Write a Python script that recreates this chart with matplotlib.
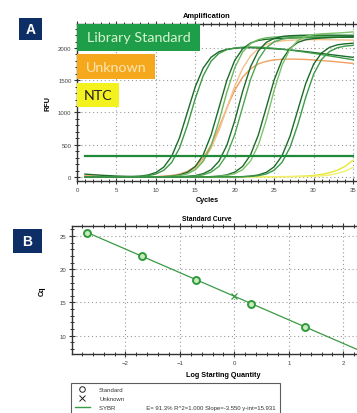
import numpy as np
import matplotlib
matplotlib.use("Agg")
import matplotlib.pyplot as plt
from matplotlib.patches import Rectangle
from matplotlib.lines import Line2D
from matplotlib.ticker import MultipleLocator

plt.rcParams['font.family'] = ['Liberation Sans', 'DejaVu Sans']

# ---------------- Panel A data: amplification (RFU per cycle) ----------------
cycles = list(range(1, 36))

std_1a = [45, 36, 28, 21, 15, 11, 9, 13, 31, 69, 153, 320, 609, 1005, 1401, 1690, 1857, 1942, 1980, 1996,
          2005, 2005, 2000, 1995, 1988, 1980, 1970, 1958, 1945, 1930, 1915, 1900, 1885, 1870, 1855]
std_1b = [5, 4, 3, 3, 3, 4, 4, 9, 20, 46, 104, 224, 450, 802, 1218, 1570, 1796, 1917, 1974, 2000,
          2012, 2015, 2012, 2005, 1995, 1982, 1968, 1952, 1935, 1917, 1898, 1878, 1858, 1838, 1818]
std_2a = [3, 3, 2, 2, 2, 2, 2, 3, 3, 3, 6, 14, 33, 74, 163, 342, 651, 1075, 1499, 1808,
          1987, 2077, 2118, 2135, 2144, 2150, 2155, 2158, 2160, 2162, 2163, 2165, 2166, 2167, 2168]
std_2b = [3, 3, 3, 3, 3, 3, 3, 3, 3, 2, 4, 10, 22, 50, 112, 242, 486, 865, 1315, 1694,
          1938, 2069, 2130, 2158, 2170, 2176, 2180, 2183, 2185, 2187, 2189, 2190, 2191, 2192, 2193]
std_3a = [3, 3, 3, 3, 3, 3, 3, 3, 3, 3, 3, 2, 4, 10, 22, 51, 113, 244, 491, 873,
          1327, 1709, 1956, 2088, 2149, 2178, 2190, 2195, 2198, 2200, 2200, 2199, 2198, 2197, 2196]
std_3b = [3, 3, 3, 3, 3, 3, 3, 3, 3, 3, 3, 3, 3, 6, 15, 33, 75, 165, 345, 658,
          1085, 1512, 1825, 2005, 2096, 2137, 2155, 2164, 2168, 2170, 2172, 2174, 2176, 2178, 2180]
std_4a = [3, 3, 3, 3, 3, 3, 3, 3, 3, 3, 3, 3, 3, 3, 3, 3, 6, 14, 33, 75,
          164, 343, 654, 1080, 1506, 1817, 1996, 2087, 2128, 2145, 2154, 2160, 2165, 2170, 2175]
std_4b = [3, 3, 3, 3, 3, 3, 3, 3, 3, 3, 3, 3, 3, 3, 3, 2, 4, 10, 23, 51,
          114, 248, 497, 885, 1345, 1733, 1982, 2116, 2179, 2208, 2220, 2226, 2232, 2240, 2250]
std_5a = [3, 3, 3, 3, 3, 3, 3, 3, 3, 3, 3, 3, 3, 3, 3, 3, 3, 3, 3, 3,
          6, 14, 32, 72, 158, 331, 630, 1040, 1450, 1749, 1922, 2009, 2049, 2065, 2074]
std_5b = [3, 3, 3, 3, 3, 3, 3, 3, 3, 3, 3, 3, 3, 3, 3, 3, 3, 3, 3, 2,
          4, 9, 21, 47, 105, 228, 457, 814, 1236, 1593, 1822, 1945, 2003, 2030, 2041]
standards = [std_1a, std_1b, std_2a, std_2b, std_3a, std_3b, std_4a, std_4b, std_5a, std_5b]
standard_colors = ['#1d6b2c', '#3c9a48', '#1d6b2c', '#6cb85e', '#1d6b2c', '#4ea652',
                   '#1d6b2c', '#7cc36a', '#1d6b2c', '#3c9a48']

unk_1 = [20, 15, 10, 8, 6, 5, 5, 5, 6, 6, 12, 24, 46, 87, 163, 293, 495, 767, 1073, 1345,
         1547, 1678, 1754, 1794, 1816, 1825, 1828, 1826, 1822, 1815, 1806, 1796, 1785, 1773, 1760]
unk_2 = [8, 6, 5, 4, 4, 4, 4, 4, 5, 5, 10, 20, 38, 73, 138, 253, 445, 722, 1065, 1408,
         1685, 1877, 1992, 2057, 2092, 2110, 2120, 2125, 2128, 2130, 2130, 2128, 2126, 2124, 2122]
unknowns = [unk_1, unk_2]
unknown_colors = ['#f0a060', '#f5c08a']

ntc_1 = [2, 2, 2, 2, 2, 2, 2, 2, 2, 2, 2, 2, 2, 2, 2, 3, 3, 3, 3, 4,
         4, 4, 5, 5, 5, 6, 7, 10, 15, 25, 40, 65, 105, 165, 260]
ntc_2 = [0, 0, 0, 0, 0, 0, 0, 0, 0, 0, 0, 0, 0, 0, 0, 1, 1, 1, 1, 1,
         2, 2, 2, 3, 3, 4, 5, 6, 8, 10, 18, 30, 55, 90, 150]
ntcs = [ntc_1, ntc_2]
ntc_colors = ['#e8e830', '#f2f070']

threshold = 330

# ---------------- Panel B data: standard curve ----------------
std_log_qty = [-2.7, -1.7, -0.7, 0.3, 1.3]
std_cq = [25.45, 22.05, 18.35, 14.8, 11.35]
unk_log_qty = [0.0]
unk_cq = [15.95]
fit_slope = -3.550
fit_intercept = 15.931
fit_x_range = [-2.7, 2.25]
legend_labels = ['Standard', 'Unknown',
                 'SYBR                   E= 91.3% R^2=1.000 Slope=-3.550 y-int=15.931']

W, H = 357, 414
fig = plt.figure(figsize=(W / 100, H / 100), dpi=100)
fig.patch.set_facecolor('white')


def fx(px):
    return px / W


def fy(py):
    return 1 - py / H


tick_col = '#444444'

# ---------------- Panel A ----------------
axA = fig.add_axes([fx(77), fy(182), 1 - fx(77), fy(25) - fy(182)])
for s, c in zip(ntcs, ntc_colors):
    axA.plot(cycles, s, color=c, lw=1.0)
for s, c in zip(unknowns, unknown_colors):
    axA.plot(cycles, s, color=c, lw=1.0)
for s, c in zip(standards, standard_colors):
    axA.plot(cycles, s, color=c, lw=1.0)
axA.plot([cycles[0], cycles[-1]], [threshold, threshold], color='#1f8a3a', lw=1.6)

axA.set_xlim(0, 35.5)
axA.set_ylim(-62, 2372)
axA.xaxis.set_major_locator(MultipleLocator(5))
axA.xaxis.set_minor_locator(MultipleLocator(1))
axA.yaxis.set_major_locator(MultipleLocator(500))
axA.yaxis.set_minor_locator(MultipleLocator(100))
axA.grid(True, which='major', linestyle=(0, (1, 2.5)), color='#9a9a9a', lw=0.8)
axA.tick_params(which='both', direction='inout', colors='#333333', labelcolor=tick_col,
                labelsize=4.3, top=True, pad=2)
axA.tick_params(which='major', length=4, width=0.8)
axA.tick_params(which='minor', length=2.5, width=0.7)
for sp in axA.spines.values():
    sp.set_color('#333333')
    sp.set_linewidth(1.0)
axA.spines['right'].set_visible(False)
axA.set_title('Amplification', fontsize=5.4, fontweight='bold', pad=5, x=(207 - 77) / (W - 77))
axA.set_xlabel('Cycles', fontsize=5.2, fontweight='bold', labelpad=3, x=(207 - 77) / (W - 77))
axA.set_ylabel('RFU', fontsize=5.2, fontweight='bold', labelpad=5)

# ---------------- Panel B ----------------
axB = fig.add_axes([fx(72), fy(355), 1 - fx(72), fy(227) - fy(355)])
fit_y = [fit_intercept + fit_slope * x for x in fit_x_range]
axB.plot(fit_x_range, fit_y, color='#3a9a45', lw=0.9)
axB.plot(std_log_qty, std_cq, linestyle='none', marker='o', markersize=5,
         markerfacecolor='#c9eac0', markeredgecolor='#2e9a3a', markeredgewidth=1.4)
axB.plot(unk_log_qty, unk_cq, linestyle='none', marker='x', markersize=5,
         markeredgecolor='#3a9a45', markeredgewidth=0.9)
axB.set_xlim(-2.98, 2.25)
axB.set_ylim(7.25, 26.5)
axB.xaxis.set_major_locator(MultipleLocator(1))
axB.xaxis.set_minor_locator(MultipleLocator(0.2))
axB.yaxis.set_major_locator(MultipleLocator(5))
axB.yaxis.set_minor_locator(MultipleLocator(1))
axB.grid(True, which='major', linestyle=(0, (1, 2.5)), color='#9a9a9a', lw=0.8)
axB.tick_params(which='both', direction='inout', colors='#333333', labelcolor=tick_col,
                labelsize=4.3, top=True, pad=2)
axB.tick_params(which='major', length=4, width=0.8)
axB.tick_params(which='minor', length=2.5, width=0.7)
for sp in axB.spines.values():
    sp.set_color('#333333')
    sp.set_linewidth(1.0)
axB.spines['right'].set_visible(False)
axB.set_title('Standard Curve', fontsize=4.8, fontweight='bold', pad=4, x=(207 - 72) / (W - 72))
axB.set_xlabel('Log Starting Quantity', fontsize=5.2, fontweight='bold', labelpad=5,
               x=(223 - 72) / (W - 72))
axB.set_ylabel('Cq', fontsize=5.2, fontweight='bold', labelpad=10)

handles = [Line2D([], [], linestyle='none', marker='o', markerfacecolor='none',
                  markeredgecolor='#222222', markersize=4, markeredgewidth=0.7),
           Line2D([], [], linestyle='none', marker='x', markeredgecolor='#222222',
                  markersize=4.5, markeredgewidth=0.7),
           Line2D([], [], color='#3a9a45', lw=1.0)]
leg = fig.legend(handles, legend_labels, loc='upper left', bbox_to_anchor=(fx(71), fy(384)),
                 fontsize=4.3, frameon=True, fancybox=False, edgecolor='#333333',
                 borderpad=0.7, labelspacing=0.6, handlelength=2.4, handletextpad=1.6,
                 borderaxespad=0)
leg.get_frame().set_linewidth(0.8)
for t in leg.get_texts():
    t.set_color('#333333')

# ---------------- Overlaid labels ----------------
def label_box(x0, y0, x1, y1, fc, text, tc, fs, weight='normal', family='Lato'):
    fig.patches.append(Rectangle((fx(x0), fy(y1)), fx(x1) - fx(x0), fy(y0) - fy(y1),
                                 transform=fig.transFigure, facecolor=fc, edgecolor='none',
                                 zorder=5))
    fig.text(fx((x0 + x1) / 2), fy((y0 + y1) / 2), text, color=tc, fontsize=fs,
             fontweight=weight, ha='center', va='center', family=family, zorder=6)


label_box(77, 25, 200, 52, '#1f9e4a', 'Library Standard', '#d6f5d0', 10.3)
label_box(77, 55, 155, 80, '#f5a81c', 'Unknown', '#fde6b4', 10.3)
label_box(77, 84, 119, 108, '#f4f21e', 'NTC', '#222222', 10.3)
label_box(19, 19, 42, 41, '#0d2f66', 'A', 'white', 10, weight='bold', family='Liberation Sans')
label_box(13, 230, 42, 254, '#0d2f66', 'B', 'white', 10, weight='bold', family='Liberation Sans')

fig.savefig('out.png', dpi=100, facecolor='white')
